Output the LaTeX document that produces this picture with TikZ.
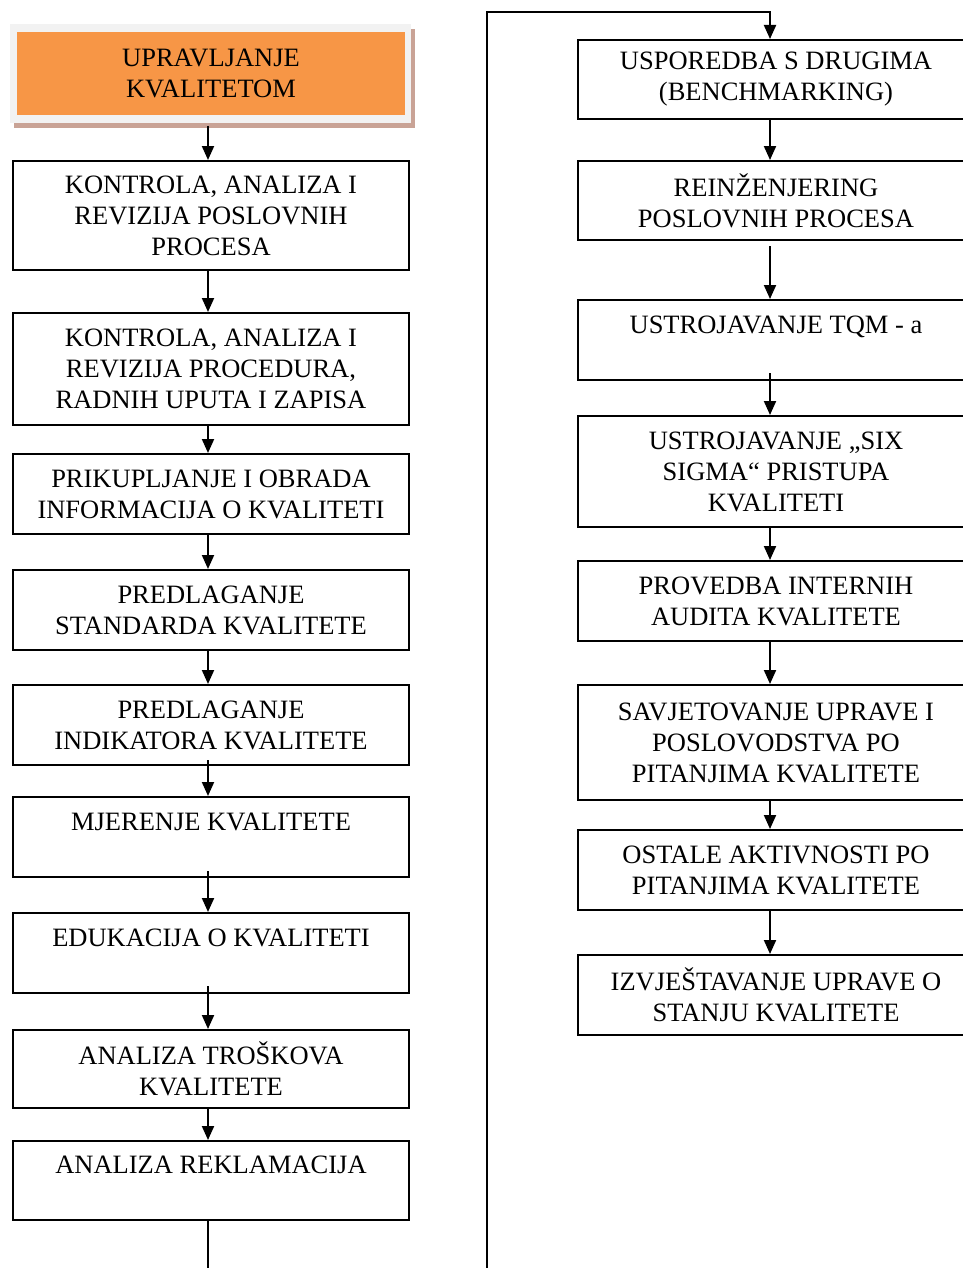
\documentclass[tikz,border=0pt]{standalone}
\usepackage{fontspec}
\setmainfont{Liberation Serif}
\usetikzlibrary{arrows.meta, positioning}
\definecolor{headorange}{HTML}{F79646}
\definecolor{headframe}{HTML}{F2F2F2}
\definecolor{headshadow}{HTML}{C9A396}

\begin{document}
\begin{tikzpicture}[x=0.5pt, y=-0.5pt, >={Triangle[length=7pt, width=6pt]},
    stage/.style={draw, line width=1pt, minimum width=198pt, inner sep=0pt, align=center,
      font=\fontsize{13.25}{15.5}\selectfont},
    flow/.style={->, line width=1pt}]
    \useasboundingbox (0,0) rectangle (963,1268);
    \clip (0,0) rectangle (963,1268);

    % Head box with frame and shadow
    \fill[headshadow] (14,29) rectangle (415,128);
    \fill[headframe] (10,24) rectangle (411,123);
    \node[stage, draw=none, fill=headorange, minimum width=194pt, minimum height=41.5pt] (head) at (211,73.5) {UPRAVLJANJE\\KVALITETOM};

    % Left column
    \node[stage, minimum height=54.5pt] (procesi) at (211,215.5) {KONTROLA, ANALIZA I\\REVIZIJA POSLOVNIH\\PROCESA};
    \node[stage, minimum height=56pt] (procedure) at (211,369) {KONTROLA, ANALIZA I\\REVIZIJA PROCEDURA,\\RADNIH UPUTA I ZAPISA};
    \node[stage, minimum height=40pt] (informacije) at (211,494) {PRIKUPLJANJE I OBRADA\\INFORMACIJA O KVALITETI};
    \node[stage, minimum height=40pt] (standardi) at (211,610) {PREDLAGANJE\\STANDARDA KVALITETE};
    \node[stage, minimum height=40pt] (indikatori) at (211,725) {PREDLAGANJE\\INDIKATORA KVALITETE};
    \node[stage, minimum height=40pt] (mjerenje) at (211,837) {MJERENJE KVALITETE\\~};
    \node[stage, minimum height=40pt] (edukacija) at (211,953) {EDUKACIJA O KVALITETI\\~};
    \node[stage, minimum height=39pt] (troskovi) at (211,1069) {ANALIZA TROŠKOVA\\KVALITETE};
    \node[stage, minimum height=39.5pt] (reklamacije) at (211,1180.5) {ANALIZA REKLAMACIJA\\~};

    % Right column
    \node[stage, minimum height=39.5pt] (usporedba) at (776,79.5) {USPOREDBA S DRUGIMA\\(BENCHMARKING)};
    \node[stage, minimum height=39.5pt] (reinzenjering) at (776,200.5) {REINŽENJERING\\POSLOVNIH PROCESA};
    \node[stage, minimum height=40pt] (tqm) at (776,340) {USTROJAVANJE TQM - a\\~};
    \node[stage, minimum height=55.5pt] (sixsigma) at (776,471.5) {USTROJAVANJE „SIX\\SIGMA“ PRISTUPA\\KVALITETI};
    \node[stage, minimum height=40pt] (audit) at (776,601) {PROVEDBA INTERNIH\\AUDITA KVALITETE};
    \node[stage, minimum height=57.5pt] (savjetovanje) at (776,742.5) {SAVJETOVANJE UPRAVE I\\POSLOVODSTVA PO\\PITANJIMA KVALITETE};
    \node[stage, minimum height=40pt] (ostalo) at (776,870) {OSTALE AKTIVNOSTI PO\\PITANJIMA KVALITETE};
    \node[stage, minimum height=40pt] (izvjestaj) at (776,995) {IZVJEŠTAVANJE UPRAVE O\\STANJU KVALITETE};

    % Left connectors
    \draw[flow] ([xshift=-1.5pt, yshift=-5pt]head.south) -- ([xshift=-1.5pt]procesi.north);
    \draw[flow] ([xshift=-1.5pt]procesi.south) -- ([xshift=-1.5pt]procedure.north);
    \draw[flow] ([xshift=-1.5pt]procedure.south) -- ([xshift=-1.5pt]informacije.north);
    \draw[flow] ([xshift=-1.5pt]informacije.south) -- ([xshift=-1.5pt]standardi.north);
    \draw[flow] ([xshift=-1.5pt]standardi.south) -- ([xshift=-1.5pt]indikatori.north);
    \draw[flow] ([xshift=-1.5pt, yshift=3pt]indikatori.south) -- ([xshift=-1.5pt]mjerenje.north);
    \draw[flow] ([xshift=-1.5pt, yshift=3.5pt]mjerenje.south) -- ([xshift=-1.5pt]edukacija.north);
    \draw[flow] ([xshift=-1.5pt, yshift=4pt]edukacija.south) -- ([xshift=-1.5pt]troskovi.north);
    \draw[flow] ([xshift=-1.5pt]troskovi.south) -- ([xshift=-1.5pt]reklamacije.north);

    % Loop over to the right column
    \coordinate (leftend) at (208,1280);
    \coordinate (loopbottom) at (487,1280);
    \coordinate (looptop) at (487,12);
    \draw[line width=1pt] (reklamacije.south -| leftend) -- (leftend);
    \draw[flow] (loopbottom) -- (looptop) -| ([xshift=-3pt]usporedba.north);

    % Right connectors
    \draw[flow] ([xshift=-3pt]usporedba.south) -- ([xshift=-3pt]reinzenjering.north);
    \draw[flow] ([xshift=-3pt, yshift=-2.5pt]reinzenjering.south) -- ([xshift=-3pt]tqm.north);
    \draw[flow] ([xshift=-3pt, yshift=4pt]tqm.south) -- ([xshift=-3pt]sixsigma.north);
    \draw[flow] ([xshift=-3pt]sixsigma.south) -- ([xshift=-3pt]audit.north);
    \draw[flow] ([xshift=-3pt]audit.south) -- ([xshift=-3pt]savjetovanje.north);
    \draw[flow] ([xshift=-3pt]savjetovanje.south) -- ([xshift=-3pt]ostalo.north);
    \draw[flow] ([xshift=-3pt]ostalo.south) -- ([xshift=-3pt]izvjestaj.north);
\end{tikzpicture}
\end{document}
